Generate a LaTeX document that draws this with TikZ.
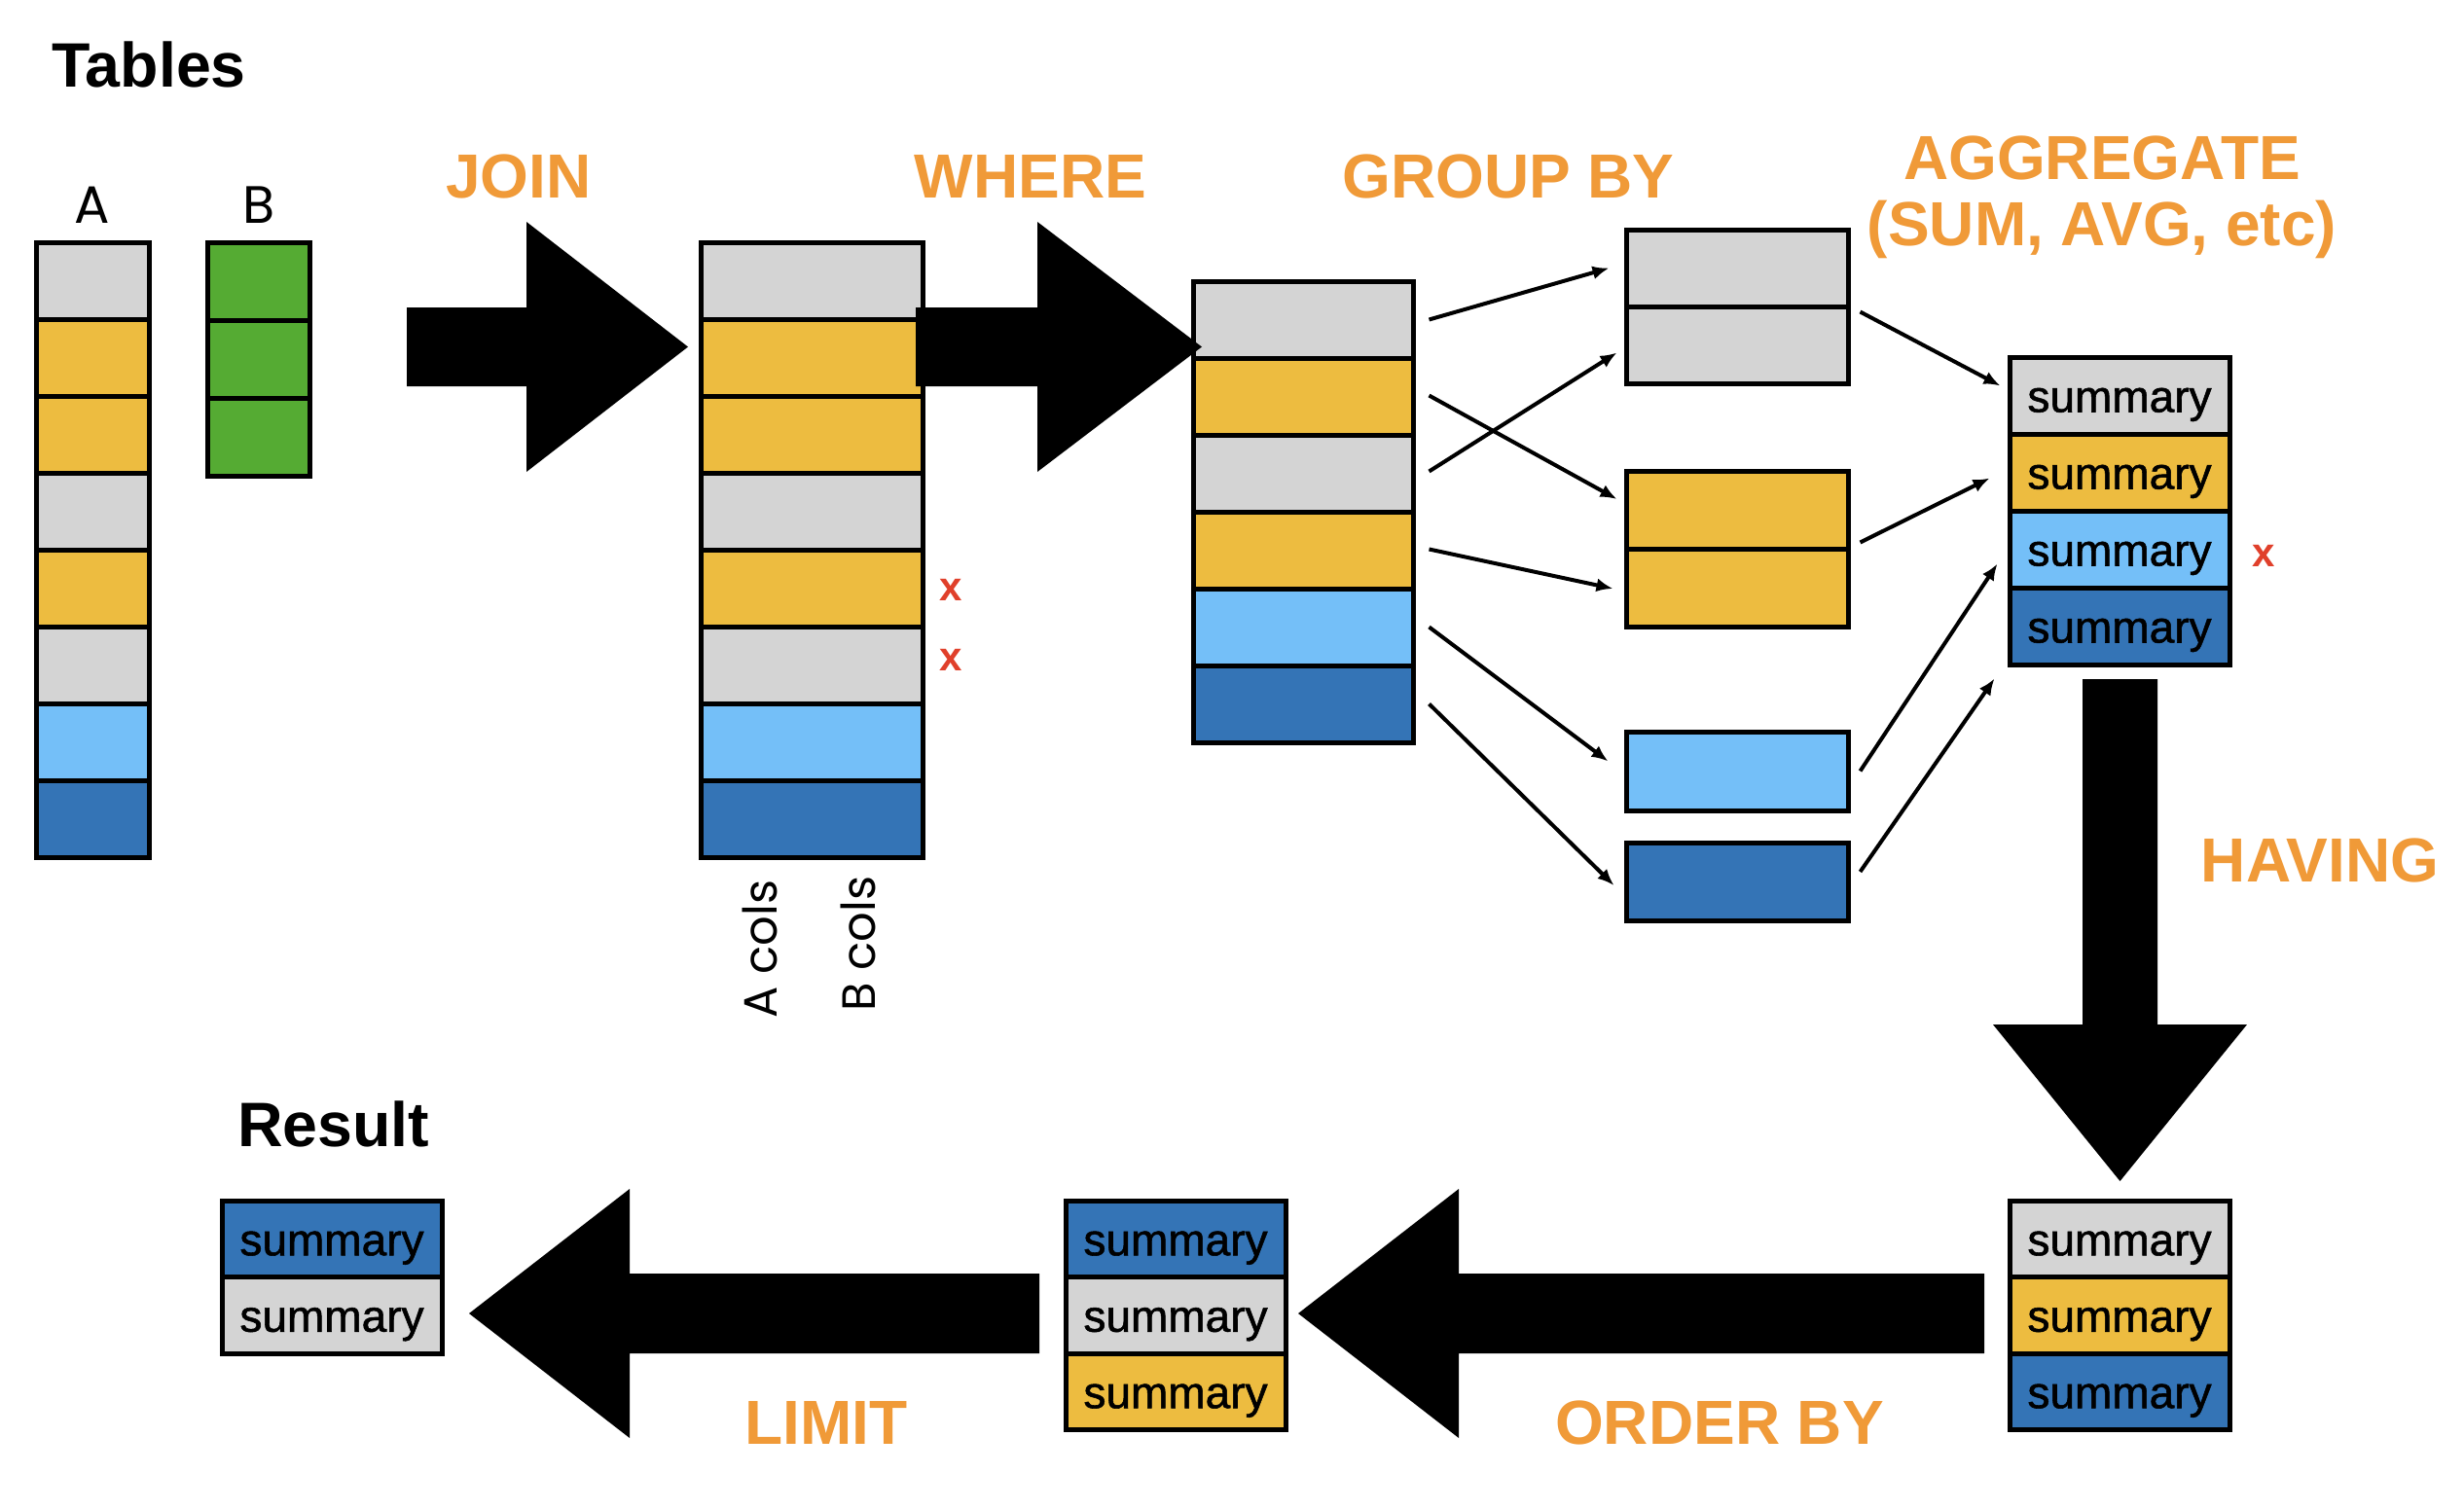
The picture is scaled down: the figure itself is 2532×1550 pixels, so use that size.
\documentclass[tikz,border=0pt]{standalone}
\usepackage{fontspec}
\setmainfont{Liberation Sans}
\newfontfamily\geofont{Poppins}
\newfontfamily\medfont{Liberation Sans}[FakeBold=1.2]
\usetikzlibrary{calc,arrows.meta}
\definecolor{gry}{HTML}{D4D4D4}
\definecolor{ylw}{HTML}{EDBC40}
\definecolor{lbl}{HTML}{74BFF8}
\definecolor{dbl}{HTML}{3474B6}
\definecolor{grn}{HTML}{55AB33}
\definecolor{orng}{HTML}{F09A38}
\definecolor{redx}{HTML}{E0402B}
\tikzset{
  row/.style={draw=black, line width=5pt, inner sep=0pt, minimum height=79pt},
  lab/.style={font=\bfseries\fontsize{64}{70}\selectfont, text=orng, inner sep=0pt, anchor=base},
  ttl/.style={font=\bfseries\fontsize{64.5}{70}\selectfont, inner sep=0pt, anchor=base west},
  sm/.style={font=\medfont\fontsize{46}{50}\selectfont, text height=40pt, text depth=6pt},
  geo/.style={font=\geofont\fontsize{54}{60}\selectfont, inner sep=0pt, anchor=base},
  geor/.style={font=\geofont\fontsize{48}{54}\selectfont, inner sep=0pt, anchor=base west, rotate=90},
  xm/.style={font=\bfseries\fontsize{42}{44}\selectfont, text=redx, inner sep=0pt},
  conn/.style={line width=4pt, -{Latex[length=17pt,width=14pt]}},
  bigarrow/.style={fill=black}
}
\begin{document}
\begin{tikzpicture}[x=1pt,y=-1pt]
\useasboundingbox[fill=white] (0,0) rectangle (2532,1550);

% titles
\node[ttl] (tables) at (53,89) {Tables};
\node[ttl] (result) at (244,1178) {Result};
\node[geo] (labA) at (95,229) {A};
\node[geo] (labB) at (266,229) {B};

% table A
\foreach \c [count=\i] in {gry,ylw,ylw,gry,ylw,gry,lbl,dbl}
  \node[row, fill=\c, minimum width=116pt] (A\i) at (95,{249+79*(\i-0.5)}) {};
% table B
\foreach \c [count=\i] in {grn,grn,grn}
  \node[row, fill=\c, minimum width=105pt, minimum height=80pt] (B\i) at (265.5,{249+80*(\i-0.5)}) {};

% joined table
\foreach \c [count=\i] in {gry,ylw,ylw,gry,ylw,gry,lbl,dbl}
  \node[row, fill=\c, minimum width=228pt] (J\i) at (834,{249+79*(\i-0.5)}) {};
\node[xm] (x1) at (977,606) {x};
\node[xm] (x2) at (977,678) {x};
\node[geor] (acols) at (798,1047) {A cols};
\node[geor] (bcols) at (899,1040) {B cols};

% group table
\foreach \c [count=\i] in {gry,ylw,gry,ylw,lbl,dbl}
  \node[row, fill=\c, minimum width=226pt] (G\i) at (1339,{289+79*(\i-0.5)}) {};

% groups
\node[row, fill=gry, minimum width=228pt] (P1a) at (1785,275.5) {};
\node[row, fill=gry, minimum width=228pt] (P1b) at (1785,354.5) {};
\node[row, fill=ylw, minimum width=228pt, minimum height=80pt] (P2a) at (1785,524) {};
\node[row, fill=ylw, minimum width=228pt, minimum height=80pt] (P2b) at (1785,604) {};
\node[row, fill=lbl, minimum width=228pt, minimum height=81pt] (P3) at (1785,792.5) {};
\node[row, fill=dbl, minimum width=228pt, minimum height=80pt] (P4) at (1785,906) {};

% summary table
\foreach \c [count=\i] in {gry,ylw,lbl,dbl}
  \node[row, fill=\c, minimum width=226pt, sm] (S\i) at (2178,{367+79*(\i-0.5)}) {summary};
\node[xm] (x3) at (2326,571) {x};

% having result table
\foreach \c [count=\i] in {gry,ylw,dbl}
  \node[row, fill=\c, minimum width=226pt, minimum height=78.5pt, sm] (H\i) at (2178,{1234+78.5*(\i-0.5)}) {summary};
% order table
\foreach \c [count=\i] in {dbl,gry,ylw}
  \node[row, fill=\c, minimum width=226pt, minimum height=78.5pt, sm] (O\i) at (1208,{1234+78.5*(\i-0.5)}) {summary};
% result table
\foreach \c [count=\i] in {dbl,gry}
  \node[row, fill=\c, minimum width=226pt, minimum height=78.5pt, sm] (R\i) at (341,{1234+78.5*(\i-0.5)}) {summary};

% labels
\node[lab] (join) at (533,203) {JOIN};
\node[lab] (where) at (1059,203) {WHERE};
\node[lab] (groupby) at (1550,203) {GROUP BY};
\node[lab] (agg1) at (2160,184) {AGGREGATE};
\node[lab] (agg2) at (2160,252) {(SUM, AVG, etc)};
\node[lab] (having) at (2384,906) {HAVING};
\node[lab] (orderby) at (1767,1484) {ORDER BY};
\node[lab] (limit) at (849,1484) {LIMIT};

% big arrows
\fill[bigarrow] (418,316) -- (541,316) -- (541,228) -- (707,356.5) -- (541,485) -- (541,397) -- (418,397) -- cycle;
\fill[bigarrow] (941,316) -- (1066,316) -- (1066,228) -- (1235,356.5) -- (1066,485) -- (1066,397) -- (941,397) -- cycle;
\fill[bigarrow] (2140,698) -- (2217,698) -- (2217,1053) -- (2309,1053) -- (2178.5,1214) -- (2048,1053) -- (2140,1053) -- cycle;
\fill[bigarrow] (2039,1309) -- (1499,1309) -- (1499,1222) -- (1334,1350) -- (1499,1478) -- (1499,1391) -- (2039,1391) -- cycle;
\fill[bigarrow] (1068,1309) -- (647,1309) -- (647,1222) -- (482,1350) -- (647,1478) -- (647,1391) -- (1068,1391) -- cycle;

% group-by connectors
\draw[conn] ($(G1.east)+(14,0)$) -- ($(P1a.west)+(-15,0)$);
\draw[conn] ($(G2.east)+(14,-1)$) -- ($(P2a.west)+(-7,-11)$);
\draw[conn] ($(G3.east)+(14,-2)$) -- ($(P1b.west)+(-7,8)$);
\draw[conn] ($(G4.east)+(14,-1)$) -- ($(P2b.west)+(-11,1)$);
\draw[conn] ($(G5.east)+(14,0)$) -- ($(P3.west)+(-16,-10)$);
\draw[conn] ($(G6.east)+(14,0)$) -- ($(P4.west)+(-10,4)$);

% aggregate connectors
\draw[conn] ($(P1a.south east)+(10,3)$) -- ($(S1.west)+(-7,-10)$);
\draw[conn] ($(P2a.south east)+(10,-9)$) -- ($(S2.west)+(-18,6)$);
\draw[conn] ($(P3.east)+(10,0)$) -- ($(S3.west)+(-10,15)$);
\draw[conn] ($(P4.east)+(10,-10)$) -- ($(S4.south west)+(-13,12)$);
\end{tikzpicture}
\end{document}
